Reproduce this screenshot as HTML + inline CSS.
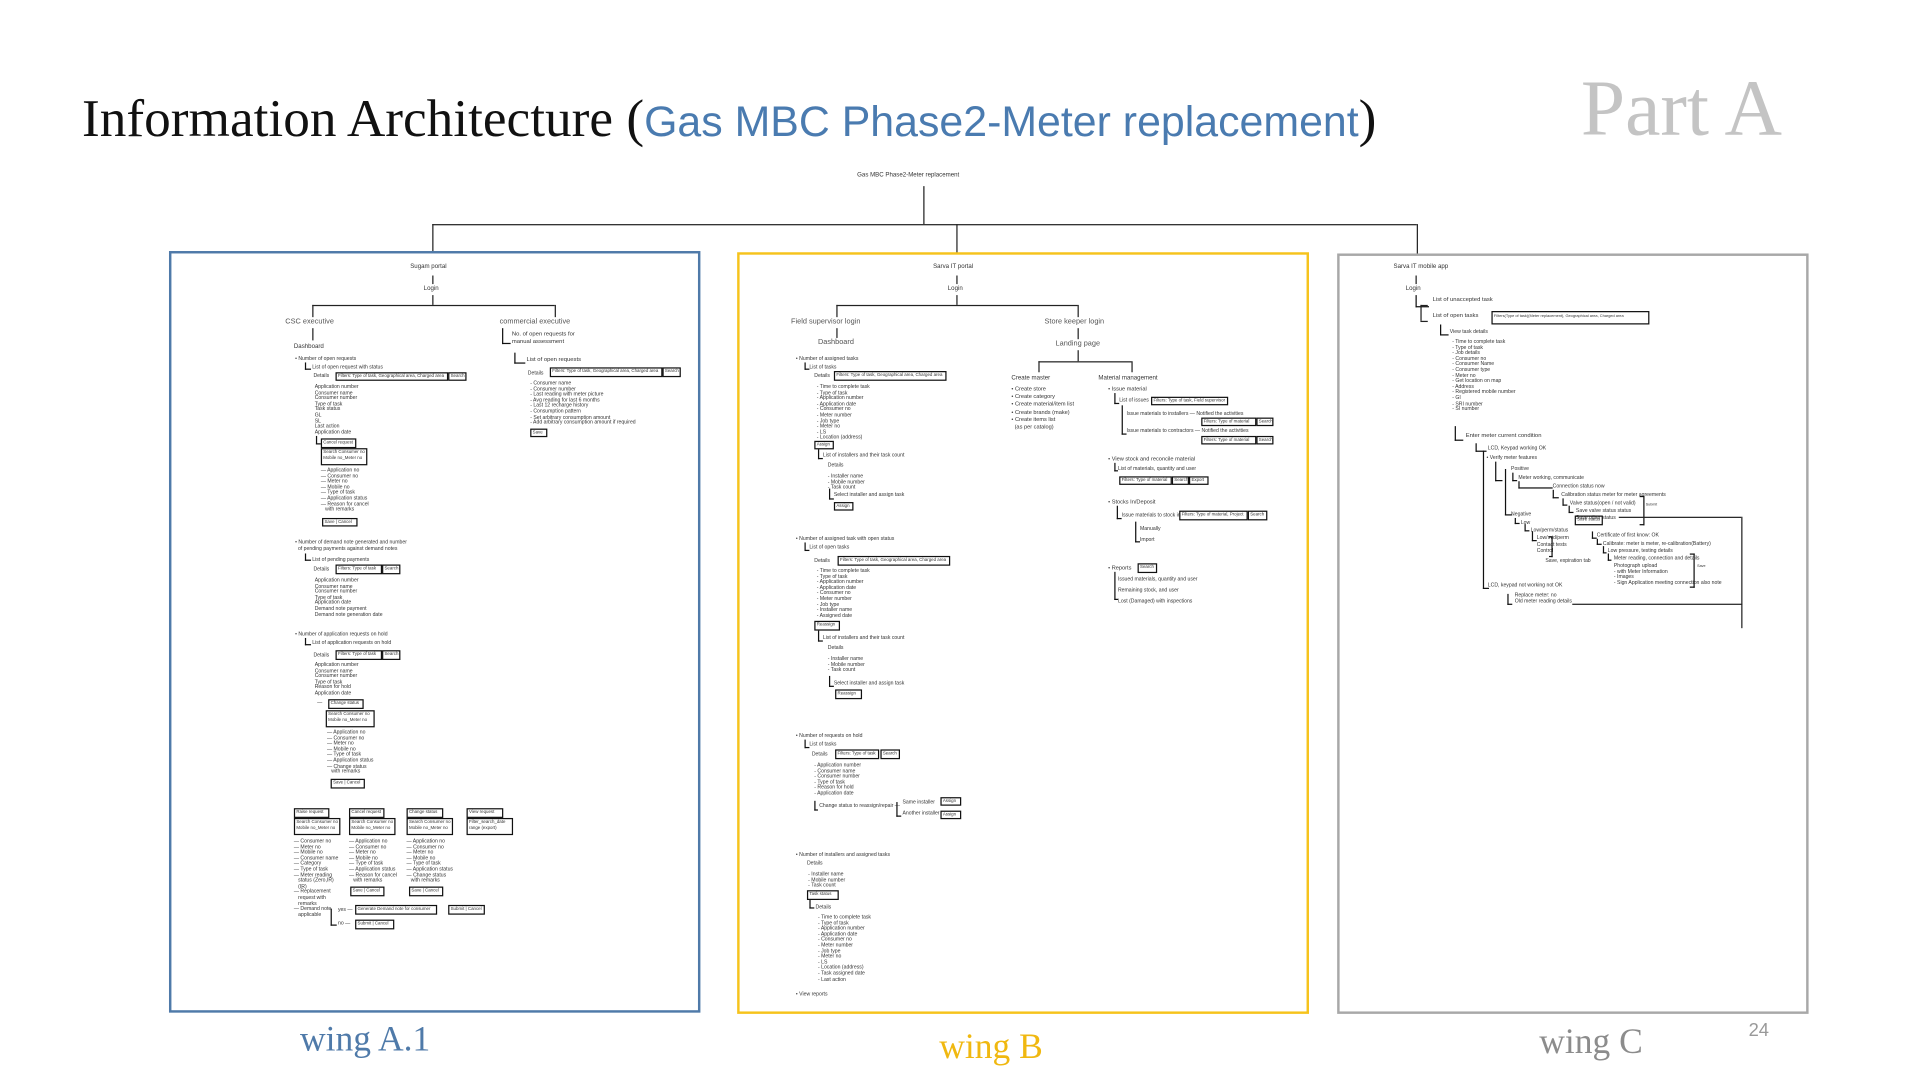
<!DOCTYPE html>
<html><head><meta charset="utf-8">
<style>
html,body{margin:0;padding:0;background:#fff;width:1920px;height:1080px;overflow:hidden}
#w{position:absolute;left:0;top:0;width:1568px;height:882px;transform:scale(1.2245);transform-origin:0 0;font-family:"Liberation Sans",sans-serif}
.a{position:absolute;white-space:nowrap}
.t{position:absolute;white-space:nowrap;font-size:4.2px;line-height:4.6px;color:#333}
.n{position:absolute;white-space:nowrap;font-size:6px;color:#555;line-height:7px}
.m{position:absolute;white-space:nowrap;font-size:5px;color:#333;line-height:6px}
.h{position:absolute;height:0;border-top:1px solid #222}
.v{position:absolute;width:0;border-left:1px solid #222}
.b{position:absolute;border:1px solid #111;font-size:3.6px;line-height:5px;color:#333;white-space:nowrap;overflow:hidden;padding-left:1px;box-sizing:border-box}
.k{border-left:1.5px solid #111;border-bottom:1.5px solid #111;position:absolute}
</style></head><body><div id="w">

<div class="a" style="left:67px;top:72px;font-family:'Liberation Serif',serif;font-size:43.5px;color:#111">Information Architecture (<span style="font-family:'Liberation Sans',sans-serif;color:#4a7bb0;font-size:35px">Gas MBC Phase2-Meter replacement</span>)</div>
<div class="a" style="left:1291px;top:52px;font-family:'Liberation Serif',serif;font-size:65px;color:#c4c4c4">Part A</div>

<div class="t" style="left:700px;top:141px;font-size:5px">Gas MBC Phase2-Meter replacement</div>
<div class="v" style="left:754px;top:152px;height:31px"></div>
<div class="h" style="left:353px;top:183px;width:804px"></div>
<div class="v" style="left:353px;top:183px;height:23px"></div>
<div class="v" style="left:781px;top:183px;height:24px"></div>
<div class="v" style="left:1157px;top:183px;height:25px"></div>

<div class="a" style="left:138px;top:205px;width:434px;height:622px;border:2.5px solid #4f7aa9;box-sizing:border-box"></div>
<div class="a" style="left:602px;top:206px;width:467px;height:622px;border:2.5px solid #f6c31c;box-sizing:border-box"></div>
<div class="a" style="left:1092px;top:207px;width:385px;height:621px;border:2.5px solid #a8a8a8;box-sizing:border-box"></div>

<div class="a" style="left:245px;top:833px;font-family:'Liberation Serif',serif;font-size:29px;color:#4f7aa9">wing A.1</div>
<div class="a" style="left:767px;top:839px;font-family:'Liberation Serif',serif;font-size:29px;color:#f0b810">wing B</div>
<div class="a" style="left:1257px;top:835px;font-family:'Liberation Serif',serif;font-size:29px;color:#8c8c8c">wing C</div>
<div class="a" style="left:1428px;top:833px;font-size:15px;color:#999">24</div>

<!-- WING A -->
<div class="m" style="left:335px;top:215px">Sugam portal</div>
<div class="v" style="left:353px;top:225px;height:7px"></div>
<div class="m" style="left:346px;top:233px">Login</div>
<div class="v" style="left:353px;top:241px;height:8px"></div>
<div class="h" style="left:255px;top:249px;width:198px;border-top-width:1.5px"></div>
<div class="v" style="left:255px;top:249px;height:10px"></div>
<div class="v" style="left:453px;top:249px;height:10px"></div>
<div class="n" style="left:233px;top:260px">CSC executive</div>
<div class="n" style="left:408px;top:260px">commercial executive</div>
<div class="v" style="left:255px;top:268px;height:10px"></div>
<div class="m" style="left:240px;top:280px">Dashboard</div>
<div class="t" style="left:241px;top:291px">• Number of open requests</div>
<div class="k" style="left:249px;top:296px;width:4px;height:5px"></div>
<div class="t" style="left:255px;top:298px">List of open request with status</div>
<div class="t" style="left:256px;top:305px">Details</div>
<div class="b" style="left:274px;top:304px;width:92px;height:7px">Filters: Type of task, Geographical area, Charged area</div>
<div class="b" style="left:366px;top:304px;width:15px;height:7px">Search</div>
<div class="t" style="left:257px;top:314px">Application number<br>Consumer name<br>Consumer number<br>Type of task<br>Task status<br>GL<br>SL<br>Last action<br>Application date</div>
<div class="k" style="left:258px;top:356px;width:3px;height:6px"></div>
<div class="b" style="left:262px;top:358px;width:29px;height:8px">Cancel request</div>
<div class="b" style="left:262px;top:366px;width:38px;height:14px;line-height:4.5px">Search Consumer no<br>Mobile no_Meter no</div>
<div class="t" style="left:262px;top:382px">— Application no<br>— Consumer no<br>— Meter no<br>— Mobile no<br>— Type of task<br>— Application status<br>— Reason for cancel<br>&nbsp;&nbsp;&nbsp;with remarks</div>
<div class="b" style="left:263px;top:423px;width:29px;height:7px">Save | Cancel</div>
<div class="t" style="left:241px;top:441px">• Number of demand note generated and number<br>&nbsp;&nbsp;of pending payments against demand notes</div>
<div class="k" style="left:249px;top:452px;width:4px;height:5px"></div>
<div class="t" style="left:255px;top:455px">List of pending payments</div>
<div class="t" style="left:256px;top:463px">Details</div>
<div class="b" style="left:274px;top:461px;width:38px;height:8px">Filters: Type of task</div>
<div class="b" style="left:312px;top:461px;width:15px;height:8px">Search</div>
<div class="t" style="left:257px;top:472px">Application number<br>Consumer name<br>Consumer number<br>Type of task<br>Application date<br>Demand note payment<br>Demand note generation date</div>
<div class="t" style="left:241px;top:516px">• Number of application requests on hold</div>
<div class="k" style="left:249px;top:521px;width:4px;height:5px"></div>
<div class="t" style="left:255px;top:523px">List of application requests on hold</div>
<div class="t" style="left:256px;top:533px">Details</div>
<div class="b" style="left:274px;top:531px;width:38px;height:8px">Filters: Type of task</div>
<div class="b" style="left:312px;top:531px;width:15px;height:8px">Search</div>
<div class="t" style="left:257px;top:541px">Application number<br>Consumer name<br>Consumer number<br>Type of task<br>Reason for hold<br>Application date</div>
<div class="t" style="left:259px;top:572px">—</div>
<div class="b" style="left:268px;top:571px;width:29px;height:8px">Change status</div>
<div class="b" style="left:266px;top:580px;width:40px;height:14px;line-height:4.5px">Search Consumer no<br>Mobile no_Meter no</div>
<div class="t" style="left:267px;top:596px">— Application no<br>— Consumer no<br>— Meter no<br>— Mobile no<br>— Type of task<br>— Application status<br>— Change status<br>&nbsp;&nbsp;&nbsp;with remarks</div>
<div class="b" style="left:270px;top:636px;width:28px;height:8px">Save | Cancel</div>

<div class="b" style="left:240px;top:660px;width:29px;height:8px">Raise request</div>
<div class="b" style="left:285px;top:660px;width:29px;height:8px">Cancel request</div>
<div class="b" style="left:332px;top:660px;width:30px;height:8px">Change status</div>
<div class="b" style="left:381px;top:660px;width:30px;height:8px">View request</div>
<div class="b" style="left:240px;top:668px;width:38px;height:14px;line-height:4.5px">Search Consumer no<br>Mobile no_Meter no</div>
<div class="b" style="left:285px;top:668px;width:38px;height:14px;line-height:4.5px">Search Consumer no<br>Mobile no_Meter no</div>
<div class="b" style="left:332px;top:668px;width:38px;height:14px;line-height:4.5px">Search Consumer no<br>Mobile no_Meter no</div>
<div class="b" style="left:381px;top:668px;width:38px;height:14px;line-height:4.5px">Filter_search_date<br>range (export)</div>
<div class="t" style="left:240px;top:685px">— Consumer no<br>— Meter no<br>— Mobile no<br>— Consumer name<br>— Category<br>— Type of task<br>— Meter reading<br>&nbsp;&nbsp;&nbsp;status (Zero,IR)<br>&nbsp;&nbsp;&nbsp;(IR)<br>— Replacement<br>&nbsp;&nbsp;&nbsp;request with<br>&nbsp;&nbsp;&nbsp;remarks<br>— Demand note<br>&nbsp;&nbsp;&nbsp;applicable</div>
<div class="t" style="left:285px;top:685px">— Application no<br>— Consumer no<br>— Meter no<br>— Mobile no<br>— Type of task<br>— Application status<br>— Reason for cancel<br>&nbsp;&nbsp;&nbsp;with remarks</div>
<div class="t" style="left:332px;top:685px">— Application no<br>— Consumer no<br>— Meter no<br>— Mobile no<br>— Type of task<br>— Application status<br>— Change status<br>&nbsp;&nbsp;&nbsp;with remarks</div>
<div class="b" style="left:286px;top:724px;width:28px;height:8px">Save | Cancel</div>
<div class="b" style="left:334px;top:724px;width:28px;height:8px">Save | Cancel</div>
<div class="k" style="left:270px;top:742px;width:4px;height:13px"></div>
<div class="t" style="left:276px;top:741px">yes —</div>
<div class="t" style="left:276px;top:752px">no —</div>
<div class="b" style="left:290px;top:739px;width:67px;height:8px">Generate Demand note for consumer</div>
<div class="b" style="left:366px;top:739px;width:30px;height:8px">Submit | Cancel</div>
<div class="b" style="left:290px;top:751px;width:32px;height:8px">Submit | Cancel</div>

<div class="k" style="left:410px;top:268px;width:6px;height:12px"></div>
<div class="t" style="left:418px;top:271px;font-size:4.8px;line-height:6px">No. of open requests for<br>manual assessment</div>
<div class="k" style="left:420px;top:288px;width:8px;height:8px"></div>
<div class="t" style="left:430px;top:293px;font-size:4.8px">List of open requests</div>
<div class="t" style="left:431px;top:303px">Details</div>
<div class="b" style="left:449px;top:300px;width:92px;height:8px">Filters: Type of task, Geographical area, Charged area</div>
<div class="b" style="left:541px;top:300px;width:15px;height:8px">Search</div>
<div class="t" style="left:433px;top:311px">- Consumer name<br>- Consumer number<br>- Last reading with meter picture<br>- Avg reading for last 6 months<br>- Last 12 recharge history<br>- Consumption pattern<br>- Set arbitrary consumption amount<br>- Add arbitrary consumption amount if required</div>
<div class="b" style="left:433px;top:350px;width:14px;height:7px">Save</div>

<!-- WING B -->
<div class="m" style="left:762px;top:215px">Sarva IT portal</div>
<div class="v" style="left:781px;top:225px;height:7px"></div>
<div class="m" style="left:774px;top:233px">Login</div>
<div class="v" style="left:781px;top:241px;height:8px"></div>
<div class="h" style="left:683px;top:249px;width:197px;border-top-width:1.5px"></div>
<div class="v" style="left:683px;top:249px;height:10px"></div>
<div class="v" style="left:880px;top:249px;height:10px"></div>
<div class="n" style="left:646px;top:260px">Field supervisor login</div>
<div class="n" style="left:853px;top:260px">Store keeper login</div>
<div class="v" style="left:683px;top:268px;height:8px"></div>
<div class="n" style="left:668px;top:277px">Dashboard</div>
<div class="v" style="left:880px;top:268px;height:9px"></div>
<div class="n" style="left:862px;top:278px">Landing page</div>
<div class="v" style="left:880px;top:286px;height:9px"></div>
<div class="h" style="left:848px;top:295px;width:76px"></div>
<div class="v" style="left:848px;top:295px;height:9px"></div>
<div class="v" style="left:924px;top:295px;height:9px"></div>
<div class="m" style="left:826px;top:306px">Create master</div>
<div class="m" style="left:897px;top:306px">Material management</div>
<div class="t" style="left:826px;top:315px;font-size:4.6px;line-height:6.2px">• Create store<br>• Create category<br>• Create material/item list<br>• Create brands (make)<br>• Create items list<br>&nbsp;&nbsp;(as per catalog)</div>

<div class="t" style="left:650px;top:291px">• Number of assigned tasks</div>
<div class="k" style="left:657px;top:296px;width:3px;height:5px"></div>
<div class="t" style="left:661px;top:298px">List of tasks</div>
<div class="t" style="left:665px;top:305px">Details</div>
<div class="b" style="left:681px;top:303px;width:92px;height:8px">Filters: Type of task, Geographical area, Charged area</div>
<div class="t" style="left:667px;top:314px">- Time to complete task<br>- Type of task<br>- Application number<br>- Application date<br>- Consumer no<br>- Meter number<br>- Job type<br>- Meter no<br>- LS<br>- Location (address)</div>
<div class="b" style="left:665px;top:360px;width:16px;height:7px">Assign</div>
<div class="k" style="left:668px;top:367px;width:3px;height:7px"></div>
<div class="t" style="left:672px;top:370px">List of installers and their task count</div>
<div class="t" style="left:676px;top:378px">Details</div>
<div class="t" style="left:676px;top:387px">- Installer name<br>- Mobile number<br>- Task count</div>
<div class="k" style="left:677px;top:399px;width:3px;height:8px"></div>
<div class="t" style="left:681px;top:402px">Select installer and assign task</div>
<div class="b" style="left:681px;top:410px;width:16px;height:7px">Assign</div>

<div class="t" style="left:650px;top:438px">• Number of assigned task with open status</div>
<div class="k" style="left:657px;top:443px;width:3px;height:6px"></div>
<div class="t" style="left:661px;top:445px">List of open tasks</div>
<div class="t" style="left:665px;top:456px">Details</div>
<div class="b" style="left:684px;top:454px;width:92px;height:8px">Filters: Type of task, Geographical area, Charged area</div>
<div class="t" style="left:667px;top:464px">- Time to complete task<br>- Type of task<br>- Application number<br>- Application date<br>- Consumer no<br>- Meter number<br>- Job type<br>- Installer name<br>- Assigned date</div>
<div class="b" style="left:665px;top:507px;width:21px;height:8px">Reassign</div>
<div class="k" style="left:668px;top:515px;width:3px;height:8px"></div>
<div class="t" style="left:672px;top:519px">List of installers and their task count</div>
<div class="t" style="left:676px;top:527px">Details</div>
<div class="t" style="left:676px;top:536px">- Installer name<br>- Mobile number<br>- Task count</div>
<div class="k" style="left:677px;top:552px;width:3px;height:8px"></div>
<div class="t" style="left:681px;top:556px">Select installer and assign task</div>
<div class="b" style="left:682px;top:563px;width:22px;height:8px">Reassign</div>

<div class="t" style="left:650px;top:599px">• Number of requests on hold</div>
<div class="k" style="left:657px;top:604px;width:3px;height:6px"></div>
<div class="t" style="left:661px;top:606px">List of tasks</div>
<div class="t" style="left:663px;top:614px">Details</div>
<div class="b" style="left:682px;top:612px;width:36px;height:8px">Filters: Type of task</div>
<div class="b" style="left:719px;top:612px;width:16px;height:8px">Search</div>
<div class="t" style="left:665px;top:623px">- Application number<br>- Consumer name<br>- Consumer number<br>- Type of task<br>- Reason for hold<br>- Application date</div>
<div class="k" style="left:665px;top:654px;width:2px;height:7px"></div>
<div class="t" style="left:669px;top:656px">Change status to reassign/repair —</div>
<div class="k" style="left:732px;top:655px;width:3px;height:11px"></div>
<div class="t" style="left:737px;top:653px">Same installer</div>
<div class="t" style="left:737px;top:662px">Another installer</div>
<div class="b" style="left:768px;top:651px;width:17px;height:7px">Assign</div>
<div class="b" style="left:768px;top:662px;width:17px;height:7px">Assign</div>

<div class="t" style="left:650px;top:696px">• Number of installers and assigned tasks</div>
<div class="t" style="left:659px;top:703px">Details</div>
<div class="t" style="left:660px;top:712px">- Installer name<br>- Mobile number<br>- Task count</div>
<div class="b" style="left:659px;top:727px;width:26px;height:8px">Task status</div>
<div class="k" style="left:661px;top:735px;width:3px;height:6px"></div>
<div class="t" style="left:666px;top:739px">Details</div>
<div class="t" style="left:668px;top:747px">- Time to complete task<br>- Type of task<br>- Application number<br>- Application date<br>- Consumer no<br>- Meter number<br>- Job type<br>- Meter no<br>- LS<br>- Location (address)<br>- Task assigned date<br>- Last action</div>
<div class="t" style="left:650px;top:810px">• View reports</div>

<div class="t" style="left:905px;top:316px;font-size:4.6px">• Issue material</div>
<div class="k" style="left:910px;top:321px;width:3px;height:8px"></div>
<div class="t" style="left:914px;top:325px">List of issues</div>
<div class="b" style="left:940px;top:324px;width:63px;height:7px">Filters: Type of task, Field supervisor</div>
<div class="k" style="left:916px;top:331px;width:3px;height:23px"></div>
<div class="t" style="left:920px;top:336px">Issue materials to installers — Notified the activities</div>
<div class="b" style="left:981px;top:341px;width:45px;height:7px">Filters: Type of material</div>
<div class="b" style="left:1026px;top:341px;width:14px;height:7px">Search</div>
<div class="t" style="left:920px;top:350px">Issue materials to contractors — Notified the activities</div>
<div class="b" style="left:981px;top:356px;width:45px;height:7px">Filters: Type of material</div>
<div class="b" style="left:1026px;top:356px;width:14px;height:7px">Search</div>
<div class="t" style="left:905px;top:373px;font-size:4.6px">• View stock and reconcile material</div>
<div class="k" style="left:910px;top:378px;width:2px;height:6px"></div>
<div class="t" style="left:913px;top:381px">List of materials, quantity and user</div>
<div class="b" style="left:914px;top:389px;width:43px;height:7px">Filters: Type of material</div>
<div class="b" style="left:957px;top:389px;width:14px;height:7px">Search</div>
<div class="b" style="left:971px;top:389px;width:16px;height:7px">Export</div>
<div class="t" style="left:905px;top:408px;font-size:4.6px">• Stocks In/Deposit</div>
<div class="k" style="left:912px;top:413px;width:3px;height:10px"></div>
<div class="t" style="left:916px;top:419px">Issue materials to stock in</div>
<div class="b" style="left:963px;top:417px;width:56px;height:8px">Filters: Type of material, Project</div>
<div class="b" style="left:1019px;top:417px;width:16px;height:8px">Search</div>
<div class="k" style="left:927px;top:426px;width:3px;height:16px"></div>
<div class="t" style="left:931px;top:430px">Manually</div>
<div class="t" style="left:931px;top:439px">Import</div>
<div class="t" style="left:905px;top:462px;font-size:4.6px">• Reports</div>
<div class="b" style="left:929px;top:460px;width:16px;height:8px">Search</div>
<div class="k" style="left:910px;top:467px;width:2px;height:22px"></div>
<div class="t" style="left:913px;top:471px">Issued materials, quantity and user<br>&nbsp;<br>Remaining stock, and user<br>&nbsp;<br>Lost (Damaged) with inspections</div>

<!-- WING C -->
<div class="m" style="left:1138px;top:215px">Sarva IT mobile app</div>
<div class="v" style="left:1156px;top:225px;height:7px"></div>
<div class="m" style="left:1148px;top:233px">Login</div>
<div class="k" style="left:1156px;top:241px;width:10px;height:9px"></div>
<div class="v" style="left:1160px;top:249px;height:13px;border-left-width:1.5px"></div>
<div class="h" style="left:1160px;top:262px;width:6px;border-top-width:1.5px"></div>
<div class="h" style="left:1160px;top:249px;width:6px;border-top-width:1.5px"></div>
<div class="t" style="left:1170px;top:244px;font-size:4.8px">List of unaccepted task</div>
<div class="t" style="left:1170px;top:257px;font-size:4.8px">List of open tasks</div>
<div class="b" style="left:1218px;top:254px;width:129px;height:11px;font-size:3.2px;line-height:7px">Filters(Type of task)(Meter replacement), Geographical area, Charged area</div>
<div class="k" style="left:1176px;top:265px;width:6px;height:8px"></div>
<div class="t" style="left:1184px;top:269px">View task details</div>
<div class="t" style="left:1186px;top:277px">- Time to complete task<br>- Type of task<br>- Job details<br>- Consumer no<br>- Consumer Name<br>- Consumer type<br>- Meter no<br>- Get location on map<br>- Address<br>- Registered mobile number<br>- GI<br>- SRI number<br>- SI number</div>
<div class="k" style="left:1188px;top:348px;width:6px;height:11px"></div>
<div class="t" style="left:1197px;top:355px;font-size:4.8px">Enter meter current condition</div>
<div class="k" style="left:1205px;top:362px;width:8px;height:6px"></div>
<div class="t" style="left:1215px;top:364px">LCD, Keypad working OK</div>
<div class="t" style="left:1214px;top:372px">• Verify meter features</div>
<div class="k" style="left:1211px;top:368px;width:4px;height:112px"></div>
<div class="t" style="left:1215px;top:476px">LCD, keypad not working not OK</div>
<div class="k" style="left:1231px;top:485px;width:3px;height:8px"></div>
<div class="t" style="left:1237px;top:484px">Replace meter: no<br>Old meter reading details</div>
<div class="k" style="left:1221px;top:377px;width:5px;height:15px"></div>
<div class="k" style="left:1229px;top:383px;width:5px;height:37px"></div>
<div class="t" style="left:1234px;top:381px">Positive</div>
<div class="k" style="left:1235px;top:386px;width:3px;height:6px"></div>
<div class="t" style="left:1240px;top:388px">Meter working, communicate</div>
<div class="k" style="left:1240px;top:393px;width:27px;height:5px"></div>
<div class="t" style="left:1268px;top:395px">Connection status now</div>
<div class="k" style="left:1268px;top:400px;width:4px;height:6px"></div>
<div class="t" style="left:1275px;top:402px">Calibration status meter for meter agreements</div>
<div class="k" style="left:1276px;top:407px;width:3px;height:5px"></div>
<div class="t" style="left:1282px;top:409px">Valve status(open / not valid)</div>
<div class="k" style="left:1281px;top:413px;width:3px;height:5px"></div>
<div class="t" style="left:1287px;top:415px">Save valve status status</div>
<div class="t" style="left:1287px;top:421px">Save other status</div>
<div class="k" style="left:1339px;top:405px;width:3px;height:22px;border-left:none;border-right:1.5px solid #111;border-top:1.5px solid #111"></div>
<div class="t" style="left:1344px;top:410px;font-size:3px">Submit</div>
<div class="h" style="left:1322px;top:422px;width:100px;border-top-width:1.5px"></div>
<div class="v" style="left:1422px;top:422px;height:91px;border-left-width:1.5px"></div>
<div class="h" style="left:1284px;top:493px;width:139px;border-top-width:1.5px"></div>
<div class="b" style="left:1286px;top:421px;width:23px;height:8px">Save status</div>
<div class="t" style="left:1234px;top:418px">Negative</div>
<div class="k" style="left:1237px;top:423px;width:3px;height:4px"></div>
<div class="t" style="left:1242px;top:425px">Low</div>
<div class="k" style="left:1245px;top:428px;width:3px;height:5px"></div>
<div class="t" style="left:1250px;top:431px">Low/perm/status</div>
<div class="k" style="left:1251px;top:434px;width:3px;height:7px"></div>
<div class="t" style="left:1255px;top:437px">Low/mid/perm</div>
<div class="t" style="left:1255px;top:443px">Contact tests<br>Control</div>
<div class="k" style="left:1265px;top:438px;width:2px;height:15px;border-left:none;border-right:1.5px solid #111;border-top:1.5px solid #111"></div>
<div class="t" style="left:1262px;top:456px">Save, expiration tab</div>
<div class="k" style="left:1300px;top:434px;width:3px;height:5px"></div>
<div class="t" style="left:1304px;top:435px">Certificate of first know: OK</div>
<div class="k" style="left:1304px;top:440px;width:3px;height:4px"></div>
<div class="t" style="left:1309px;top:442px">Calibrate: meter is meter, re-calibration(Battery)</div>
<div class="k" style="left:1309px;top:446px;width:2px;height:5px"></div>
<div class="t" style="left:1313px;top:448px">Low pressure, testing details</div>
<div class="k" style="left:1313px;top:452px;width:2px;height:5px"></div>
<div class="t" style="left:1318px;top:454px">Meter reading, connection and details</div>
<div class="t" style="left:1318px;top:460px">Photograph upload<br>- with Meter Information<br>- Images<br>- Sign Application meeting connection also note</div>
<div class="k" style="left:1380px;top:452px;width:3px;height:26px;border-left:none;border-right:1.5px solid #111;border-top:1.5px solid #111"></div>
<div class="t" style="left:1386px;top:460px;font-size:3px">Save</div>

</div></body></html>
